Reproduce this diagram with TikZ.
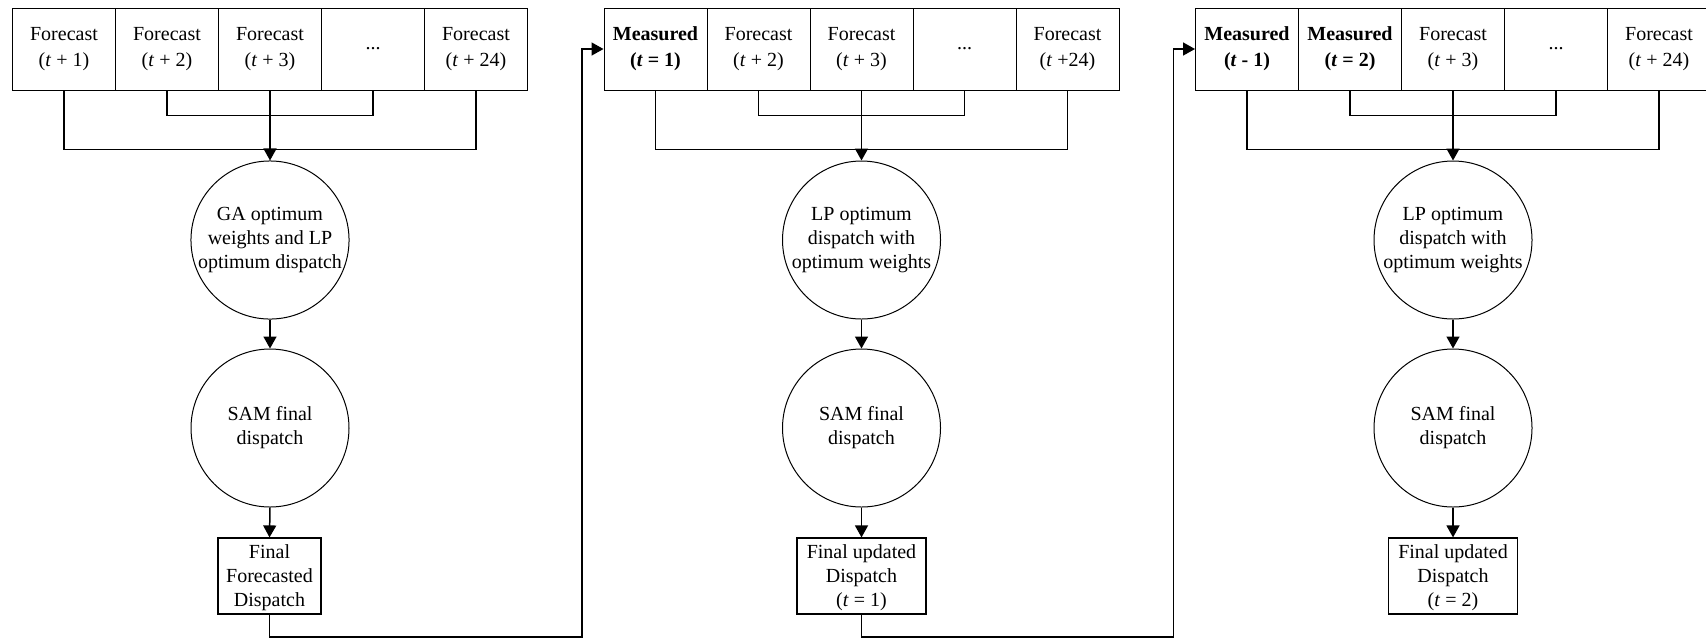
\documentclass[tikz,border=0pt]{standalone}
\usepackage{fontspec}
\setmainfont{Liberation Serif}
\usetikzlibrary{arrows.meta}
\begin{document}
\begin{tikzpicture}[x=0.5pt,y=-0.5pt,
  cell/.style={draw,line width=0.5pt,minimum width=51.5pt,minimum height=41pt,inner sep=0pt,align=center,font=\fontsize{10}{13}\selectfont},
  circ/.style={draw,circle,line width=0.5pt,minimum size=79pt,inner sep=0pt,align=center,font=\fontsize{10}{12}\selectfont},
  outbox/.style={draw,line width=0.6pt,minimum height=38pt,inner sep=0pt,align=center,font=\fontsize{10}{12}\selectfont},
  conn/.style={line width=0.75pt},
  arr/.style={conn,-{Triangle[length=6pt,width=6.5pt]}}]
\useasboundingbox (0,0) rectangle (1706,639);
% ---------- group 1
\node[cell] (a1) at (64,49) {Forecast\\(\textit{t} + 1)};
\node[cell] (a2) at (167,49) {Forecast\\(\textit{t} + 2)};
\node[cell] (a3) at (270,49) {Forecast\\(\textit{t} + 3)};
\node[cell] (a4) at (373,49) {...};
\node[cell] (a5) at (476,49) {Forecast\\(\textit{t} + 24)};
\node[circ] (aA) at (270,240) {GA optimum\\weights and LP\\optimum dispatch};
\node[circ] (aB) at (270,428) {SAM final\\dispatch};
\node[outbox,minimum width=51.5pt] (aR) at (269.5,576) {\rule{0pt}{8.5pt}Final\\Forecasted\\Dispatch};
\draw[conn] (a1.south) -- ++(0,59) -| (a5.south);
\draw[conn] (a2.south) -- ++(0,25) -| (a4.south);
\draw[arr] (a3.south) -- (aA.north);
\draw[arr] (aA.south) -- (aB.north);
\draw[arr] (aB.south) -- (aR.north);
% ---------- group 2
\node[cell] (b1) at (655.5,49) {\textbf{Measured}\\\textbf{(\textit{t} = 1)}};
\node[cell] (b2) at (758.5,49) {Forecast\\(\textit{t} + 2)};
\node[cell] (b3) at (861.5,49) {Forecast\\(\textit{t} + 3)};
\node[cell] (b4) at (964.5,49) {...};
\node[cell] (b5) at (1067.5,49) {Forecast\\(\textit{t} +24)};
\node[circ] (bA) at (861.5,240) {LP optimum\\dispatch with\\optimum weights};
\node[circ] (bB) at (861.5,428) {SAM final\\dispatch};
\node[outbox,minimum width=64.5pt] (bR) at (861.5,576) {\rule{0pt}{8.5pt}Final updated\\Dispatch\\(\textit{t} = 1)};
\draw[conn] (b1.south) -- ++(0,59) -| (b5.south);
\draw[conn] (b2.south) -- ++(0,25) -| (b4.south);
\draw[arr] (b3.south) -- (bA.north);
\draw[arr] (bA.south) -- (bB.north);
\draw[arr] (bB.south) -- (bR.north);
% ---------- group 3
\node[cell] (c1) at (1247,49) {\textbf{Measured}\\\textbf{(\textit{t} - 1)}};
\node[cell] (c2) at (1350,49) {\textbf{Measured}\\\textbf{(\textit{t} = 2)}};
\node[cell] (c3) at (1453,49) {Forecast\\(\textit{t} + 3)};
\node[cell] (c4) at (1556,49) {...};
\node[cell] (c5) at (1659,49) {Forecast\\(\textit{t} + 24)};
\node[circ] (cA) at (1453,240) {LP optimum\\dispatch with\\optimum weights};
\node[circ] (cB) at (1453,428) {SAM final\\dispatch};
\node[outbox,minimum width=64.5pt] (cR) at (1453,576) {\rule{0pt}{8.5pt}Final updated\\Dispatch\\(\textit{t} = 2)};
\draw[conn] (c1.south) -- ++(0,59) -| (c5.south);
\draw[conn] (c2.south) -- ++(0,25) -| (c4.south);
\draw[arr] (c3.south) -- (cA.north);
\draw[arr] (cA.south) -- (cB.north);
\draw[arr] (cB.south) -- (cR.north);
% ---------- feedback connectors
\coordinate (r1) at (582,637);
\coordinate (r2) at (1173.5,637);
\draw[arr] (aR.south) |- (r1) |- (b1.west);
\draw[arr] (bR.south) |- (r2) |- (c1.west);
\end{tikzpicture}
\end{document}
